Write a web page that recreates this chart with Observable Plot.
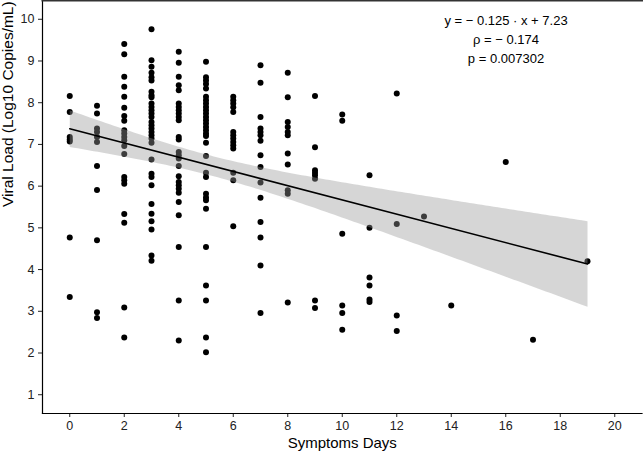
<!DOCTYPE html>
<html><head><meta charset="utf-8">
<script src="https://cdn.jsdelivr.net/npm/d3@7"></script>
<script src="https://cdn.jsdelivr.net/npm/@observablehq/plot@0.6"></script>
<style>body{margin:0;background:#fff;} #chart svg{display:block;}</style>
</head><body><div id="chart"></div>
<script>
const symptomDays = [0, 1, 2, 3, 4, 5, 6, 7, 8, 9, 10, 11, 12, 13, 14, 16, 17, 19];
const viralLoads = [
  [8.16, 7.78, 7.18, 7.12, 7.07, 4.77, 3.34],
  [7.93, 7.74, 7.38, 7.30, 7.18, 7.06, 6.48, 5.91, 4.70, 2.98, 2.84],
  [9.41, 9.16, 8.62, 8.38, 8.14, 7.88, 7.68, 7.57, 7.34, 7.26, 7.18, 7.10, 6.96, 6.77, 6.22, 6.14, 6.06, 5.33, 5.12, 3.09, 2.37],
  [9.76, 9.02, 8.86, 8.72, 8.61, 8.53, 8.26, 8.18, 8.13, 7.98, 7.90, 7.82, 7.74, 7.66, 7.54, 7.46, 7.38, 7.30, 7.22, 7.14, 7.04, 6.64, 6.30, 6.22, 6.02, 5.57, 5.34, 5.16, 4.96, 4.34, 4.21],
  [9.22, 8.96, 8.62, 8.42, 8.30, 7.98, 7.90, 7.82, 7.74, 7.66, 7.58, 7.18, 7.12, 6.82, 6.74, 6.66, 6.48, 6.24, 6.10, 6.02, 5.94, 5.84, 5.62, 5.30, 4.54, 3.26, 2.30],
  [8.98, 8.61, 8.53, 8.45, 8.34, 8.14, 8.06, 7.98, 7.90, 7.82, 7.74, 7.66, 7.58, 7.50, 7.42, 7.34, 7.26, 7.20, 7.04, 6.72, 6.32, 6.22, 5.82, 5.73, 5.66, 5.46, 4.54, 3.62, 3.26, 2.37, 2.02],
  [8.14, 8.06, 7.98, 7.89, 7.78, 7.30, 7.22, 7.14, 7.06, 6.98, 6.90, 6.32, 6.14, 5.04],
  [8.90, 8.48, 7.66, 7.38, 7.30, 7.22, 7.09, 6.74, 6.46, 6.09, 5.72, 5.14, 4.77, 4.10, 2.96],
  [8.72, 8.13, 7.54, 7.42, 7.30, 7.22, 6.78, 6.52, 5.90, 5.82, 3.21],
  [8.16, 6.93, 6.38, 6.32, 6.26, 6.18, 3.26, 3.08],
  [7.72, 7.57, 4.86, 3.14, 2.96, 2.56],
  [6.26, 5.00, 3.81, 3.62, 3.28, 3.22],
  [8.22, 5.09, 2.90, 2.53],
  [5.27],
  [3.14],
  [6.58],
  [2.32],
  [4.20]
];
const xTicks = [0, 2, 4, 6, 8, 10, 12, 14, 16, 18, 20];
const yTicks = [1, 2, 3, 4, 5, 6, 7, 8, 9, 10];
const annotationLines = ["y = \u2212 0.125 \u00b7 x + 7.23", "\u03c1 = \u2212 0.174", "p = 0.007302"];
const xTitle = "Symptoms Days";
const yTitle = "Viral Load (Log10 Copies/mL)";

const data = symptomDays.flatMap((d, i) => viralLoads[i].map(v => ({day: d, load: v})));

const chart = Plot.plot({
  width: 643, height: 455,
  marginLeft: 42, marginRight: 1.5, marginTop: 0, marginBottom: 42,
  style: {fontFamily: "'Liberation Sans', Arial, sans-serif", background: "#fff", color: "#000"},
  x: {domain: [-1, 21]},
  y: {domain: [0.55, 10.45]},
  marks: [
    Plot.dot(data, {x: "day", y: "load", r: 3, fill: "#000", stroke: "none"}),
    Plot.linearRegressionY(data, {x: "day", y: "load", ci: 0.95, stroke: "#000", strokeWidth: 1.6, fill: "#999999", fillOpacity: 0.4}),
    Plot.axisX({ticks: xTicks, tickSize: 4, tickPadding: 4, fontSize: 12.5, color: "#222", label: null}),
    Plot.axisY({ticks: yTicks, tickSize: 4, tickPadding: 4, fontSize: 12.5, color: "#222", label: null}),
    Plot.frame({anchor: "left", stroke: "#000", strokeWidth: 1.2}),
    Plot.frame({anchor: "bottom", stroke: "#000", strokeWidth: 1.2}),
    Plot.frame({anchor: "top", stroke: "#333", strokeWidth: 2}),
    Plot.text([xTitle], {frameAnchor: "bottom", text: d => d, dy: 34, fontSize: 15, fill: "#000"}),
    Plot.text([yTitle], {frameAnchor: "left", text: d => d, rotate: -90, dx: -34, fontSize: 15.5, fill: "#000"}),
    Plot.text([annotationLines.join("\n")], {frameAnchor: "top-right", text: d => d, textAnchor: "middle", lineAnchor: "top", lineHeight: 1.45, dx: -136, dy: 11, fontSize: 13, fill: "#000"})
  ]
});
document.getElementById("chart").appendChild(chart);
</script>
</body></html>
